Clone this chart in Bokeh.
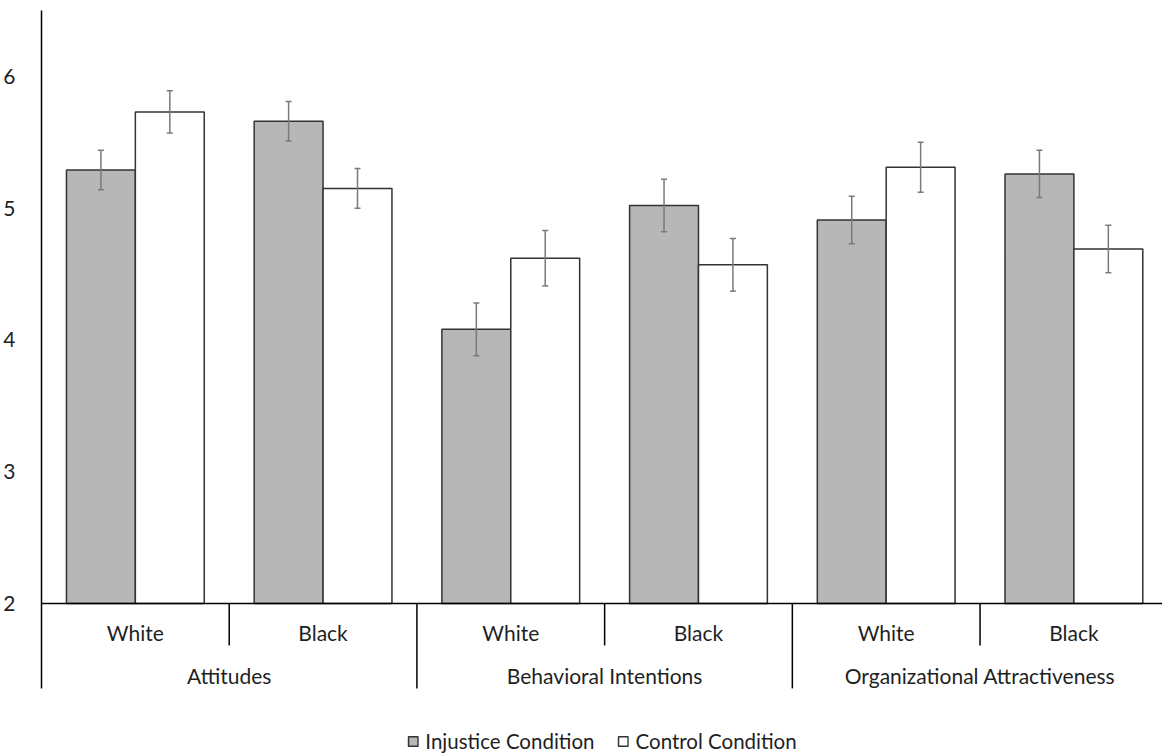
from bokeh.plotting import figure
from bokeh.models import Range1d, FixedTicker, Whisker, ColumnDataSource, Legend, LegendItem, TeeHead
from bokeh.embed import file_html
from bokeh.resources import INLINE
from bokeh.core.properties import value

# ---- data ----
measures = ["Attitudes", "Behavioral Intentions", "Organizational Attractiveness"]
races = ["White", "Black"]
conditions = ["Injustice Condition", "Control Condition"]
injustice_means = [5.29, 5.66, 4.08, 5.02, 4.91, 5.26]
injustice_err = [0.15, 0.15, 0.20, 0.20, 0.18, 0.18]
control_means = [5.73, 5.15, 4.62, 4.57, 5.31, 4.69]
control_err = [0.16, 0.15, 0.21, 0.20, 0.19, 0.18]
y_ticks = [2, 3, 4, 5, 6]

# ---- layout / style constants ----
FONT = "Lato"
FS = "21px"
TXT = "#1f1f1f"
BASE = 2.0
Y_TOP = 6.5
Y_BOTTOM = 0.861
SUB_SEP_Y = 1.681
GRP_SEP_Y = 1.355
SUB_LABEL_Y = 1.78
GRP_LABEL_Y = 1.453
BAR_W = 0.367
X_MAX = 5.972

n_sub = len(measures) * len(races)
centers = [i + 0.5 for i in range(n_sub)]
inj_x = [c - BAR_W / 2 for c in centers]
ctl_x = [c + BAR_W / 2 for c in centers]

p = figure(width=1162, height=753, output_backend="svg", toolbar_location=None,
           x_range=Range1d(0, X_MAX), y_range=Range1d(Y_BOTTOM, Y_TOP),
           min_border_left=41, min_border_right=0, min_border_top=10, min_border_bottom=0)
p.outline_line_color = None
p.grid.visible = False
p.xaxis.visible = False

ya = p.yaxis[0]
ya.ticker = FixedTicker(ticks=y_ticks)
ya.bounds = (GRP_SEP_Y, Y_TOP)
ya.axis_line_color = "black"
ya.axis_line_width = 1.5
ya.major_tick_line_color = None
ya.minor_tick_line_color = None
ya.major_label_text_font = FONT
ya.major_label_text_font_size = FS
ya.major_label_text_color = TXT
ya.major_label_standoff = 20

src_i = ColumnDataSource(dict(x=inj_x, top=injustice_means,
                              upper=[m + e for m, e in zip(injustice_means, injustice_err)],
                              lower=[m - e for m, e in zip(injustice_means, injustice_err)]))
src_c = ColumnDataSource(dict(x=ctl_x, top=control_means,
                              upper=[m + e for m, e in zip(control_means, control_err)],
                              lower=[m - e for m, e in zip(control_means, control_err)]))

r_i = p.vbar(x="x", top="top", bottom=BASE, width=BAR_W, source=src_i,
             fill_color="#b7b7b7", line_color="#333333", line_width=1.5)
r_c = p.vbar(x="x", top="top", bottom=BASE, width=BAR_W, source=src_c,
             fill_color="white", line_color="#333333", line_width=1.5)

for s in (src_i, src_c):
    w = Whisker(source=s, base="x", upper="upper", lower="lower",
                line_color="#7a7a7a", line_width=1.5, level="overlay",
                upper_head=TeeHead(size=6, line_color="#7a7a7a", line_width=1.5),
                lower_head=TeeHead(size=6, line_color="#7a7a7a", line_width=1.5))
    p.add_layout(w)

# baseline (x axis line)
p.segment(x0=[0], y0=[BASE], x1=[X_MAX], y1=[BASE], line_color="black", line_width=1.5)

# separators
n_r = len(races)
sub_seps = [i for i in range(1, n_sub) if i % n_r != 0]
grp_seps = [i for i in range(1, n_sub) if i % n_r == 0]
p.segment(x0=sub_seps, y0=[BASE] * len(sub_seps), x1=sub_seps, y1=[SUB_SEP_Y] * len(sub_seps),
          line_color="black", line_width=1.5)
p.segment(x0=grp_seps, y0=[BASE] * len(grp_seps), x1=grp_seps, y1=[GRP_SEP_Y] * len(grp_seps),
          line_color="black", line_width=1.5)

# labels
sub_labels = [r for m in measures for r in races]
p.text(x=centers, y=[SUB_LABEL_Y] * n_sub, text=sub_labels, text_align="center",
       text_baseline="middle", text_font=value(FONT), text_font_size=FS, text_color=TXT)
grp_centers = [k * n_r + n_r / 2 for k in range(len(measures))]
p.text(x=grp_centers, y=[GRP_LABEL_Y] * len(measures), text=measures, text_align="center",
       text_baseline="middle", text_font=value(FONT), text_font_size=FS, text_color=TXT)

legend = Legend(items=[LegendItem(label=conditions[0], renderers=[r_i]),
                       LegendItem(label=conditions[1], renderers=[r_c])],
                orientation="horizontal", location="bottom_center",
                glyph_width=12, glyph_height=12, label_standoff=7, spacing=22,
                padding=0, margin=0, border_line_color=None, background_fill_alpha=0,
                label_text_font=FONT, label_text_font_size="20.5px", label_text_color=TXT,
                label_height=18)
p.add_layout(legend)

open("out.html", "w").write(file_html(p, INLINE))
